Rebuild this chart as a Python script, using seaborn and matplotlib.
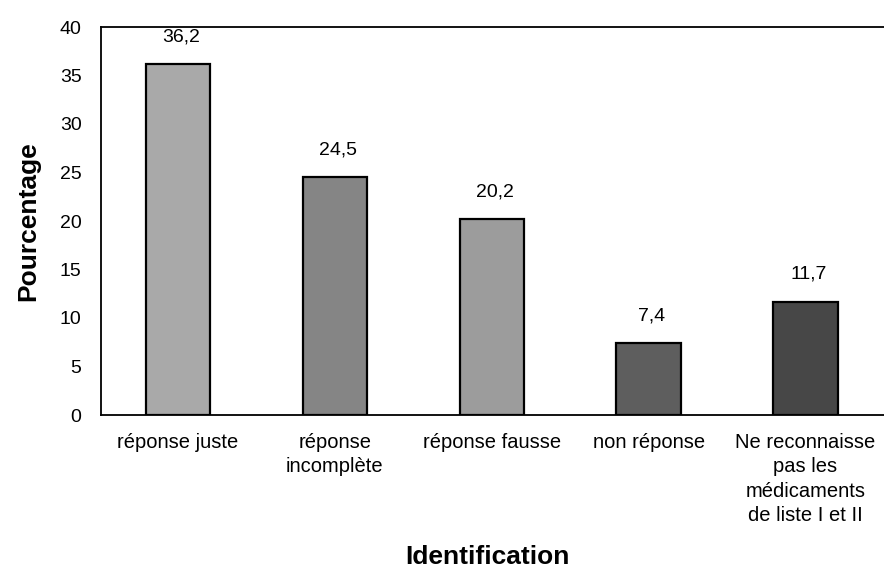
import matplotlib
matplotlib.use("Agg")
import matplotlib.pyplot as plt
import seaborn as sns
import pandas as pd

categories = [
    "réponse juste",
    "réponse\nincomplète",
    "réponse fausse",
    "non réponse",
    "Ne reconnaisse\npas les\nmédicaments\nde liste I et II",
]
values = [36.2, 24.5, 20.2, 7.4, 11.7]
value_labels = ["36,2", "24,5", "20,2", "7,4", "11,7"]
bar_colors = ["#a9a9a9", "#858585", "#9c9c9c", "#5e5e5e", "#474747"]
y_ticks = [0, 5, 10, 15, 20, 25, 30, 35, 40]

sns.set_theme(style="white")
plt.rcParams["font.family"] = ["Liberation Sans", "DejaVu Sans"]
plt.rcParams["text.color"] = "black"
plt.rcParams["axes.labelcolor"] = "black"
plt.rcParams["xtick.color"] = "black"
plt.rcParams["ytick.color"] = "black"

df = pd.DataFrame({"cat": categories, "val": values})

fig = plt.figure(figsize=(8.84, 5.76), dpi=100)
ax = fig.add_axes([101 / 884, 1 - 415 / 576, 1 - 101 / 884, (415 - 27) / 576])

sns.barplot(data=df, x="cat", y="val", hue="cat", palette=bar_colors,
            legend=False, width=0.41, edgecolor="black", linewidth=1.6,
            saturation=1, ax=ax)

for patch, lab, v in zip(ax.patches, value_labels, values):
    cx = patch.get_x() + patch.get_width() / 2
    ax.annotate(lab, (cx, v), xytext=(2, 19.5), textcoords="offset points",
                ha="center", va="center", fontsize=14, color="black")

ax.set_ylim(0, 40)
ax.set_xlim(-0.49, 4.5)
ax.set_yticks(y_ticks)
ax.set_yticklabels([str(t) for t in y_ticks], fontsize=14)
ax.tick_params(axis="x", labelsize=14.5, pad=13, length=0)
ax.tick_params(axis="y", pad=14, length=0)
for lbl in ax.get_xticklabels():
    lbl.set_linespacing(1.35)

for side in ["left", "bottom", "top"]:
    ax.spines[side].set_visible(True)
    ax.spines[side].set_color("black")
    ax.spines[side].set_linewidth(1.3)
ax.spines["right"].set_visible(False)

ax.set_xlabel("Identification", fontsize=19, fontweight="bold")
ax.xaxis.set_label_coords(0.494, (415 - 545) / 388)
ax.set_ylabel("Pourcentage", fontsize=19, fontweight="bold")
ax.yaxis.set_label_coords((40 - 101) / 783, 0.5)

fig.savefig("out.png", dpi=100)
